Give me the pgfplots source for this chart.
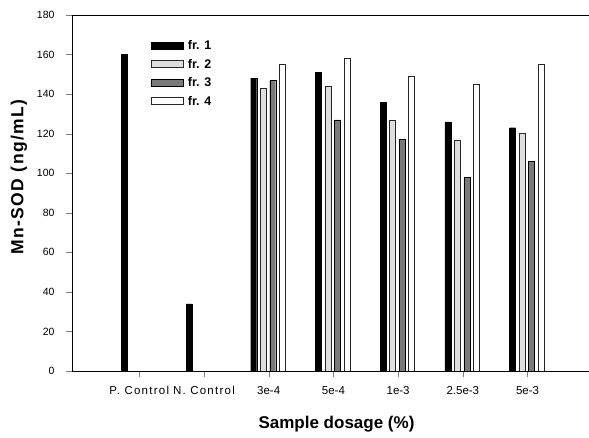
\documentclass[border=0pt]{standalone}
\usepackage{pgfplots}
\pgfplotsset{compat=1.18}
\usepackage{fontspec}
\setmainfont{Liberation Sans}
\newcommand{\wide}{\addfontfeature{LetterSpace=11}}
\begin{document}
\begin{tikzpicture}[x=1pt,y=1pt]
\begin{axis}[
  at={(0,0)}, anchor=south west,
  width=517pt, height=356pt, scale only axis,
  xmin=-1.04, xmax=6.95, ymin=0, ymax=180,
  axis x line*=box, axis y line*=left,
  xtick pos=bottom, ytick pos=left,
  tick align=outside, major tick length=6pt,
  xtick={0,1,2,3,4,5,6},
  xticklabels={{\wide P. Control},{\wide N. Control},3e-4,5e-4,1e-3,2.5e-3,5e-3},
  ytick={0,20,...,180},
  /pgf/number format/assume math mode=true,
  xticklabel style={font=\fontsize{11.5}{13}\selectfont, yshift=-6pt},
  yticklabel style={font=\fontsize{10.5}{12}\selectfont, xshift=-8pt},
  axis line style={line width=0.9pt},
  every axis x label/.style={at={(axis description cs:0.5,0)}, xshift=6pt, yshift=-53pt, anchor=center},
  every axis y label/.style={at={(axis description cs:0,0.545)}, xshift=-53pt, rotate=90, anchor=center},
  xlabel={Sample dosage (\%)},
  ylabel={Mn-SOD (ng/mL)},
  xlabel style={font=\fontsize{17}{19}\selectfont\bfseries},
  ylabel style={font=\fontsize{17.5}{19}\selectfont\bfseries\addfontfeature{LetterSpace=8}},
  ybar, bar width=6pt,
  legend style={at={(0.1475,0.94)}, anchor=north west, draw=none, fill=none,
    font=\fontsize{12.5}{14}\selectfont\bfseries,
    nodes={inner ysep=2pt, inner xsep=4pt, text height=9pt, text depth=2pt}, row sep=3.5pt},
  legend cell align=left,
  legend image code/.code={\draw[#1] (0pt,-3pt) rectangle (32pt,4pt);},
]
\addplot[fill=black, draw=black, bar shift=-15pt] coordinates {(0,160) (1,34) (2,148) (3,151) (4,136) (5,126) (6,123)};
\addplot[fill=black!13, draw=black!85, bar shift=-5.5pt] coordinates {(2,143) (3,144) (4,127) (5,116.5) (6,120)};
\addplot[fill=black!52, draw=black, bar shift=4pt] coordinates {(2,147) (3,127) (4,117) (5,98) (6,106)};
\addplot[fill=white, draw=black!85, bar shift=13.5pt] coordinates {(2,155) (3,158) (4,149) (5,145) (6,155)};
\legend{fr. 1, fr. 2, fr. 3, fr. 4}
\end{axis}
\pgfresetboundingbox
\path[use as bounding box] (-72,-67) rectangle (517,371);
\end{tikzpicture}
\end{document}
